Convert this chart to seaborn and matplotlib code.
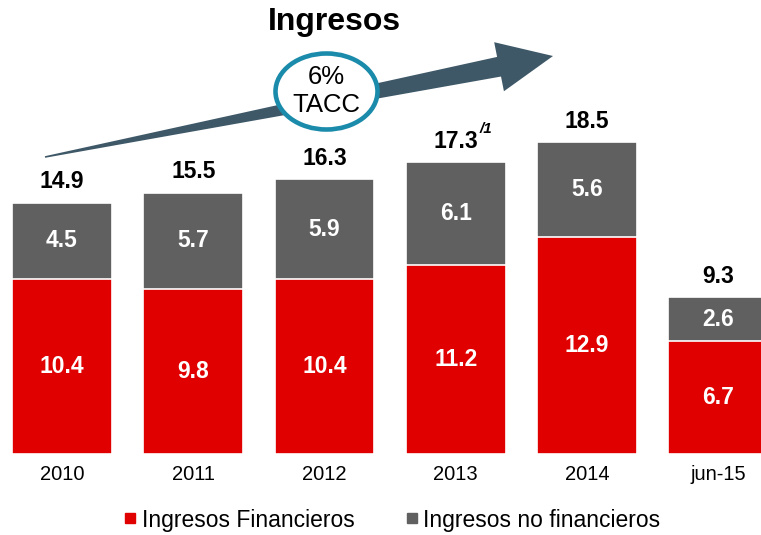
import matplotlib
matplotlib.use("Agg")
import matplotlib.pyplot as plt
import seaborn as sns
import numpy as np
import pandas as pd
from matplotlib.patches import Polygon, Ellipse
from matplotlib.lines import Line2D

# datos del grafico
periodos = ["2010", "2011", "2012", "2013", "2014", "jun-15"]
financieros = [10.4, 9.8, 10.4, 11.2, 12.9, 6.7]
no_financieros = [4.5, 5.7, 5.9, 6.1, 5.6, 2.6]
totales = [14.9, 15.5, 16.3, 17.3, 18.5, 9.3]
nota_2013 = "/1"
tacc_pct = "6%"
tacc_txt = "TACC"

ROJO = "#E00000"
GRIS = "#606060"

sns.set_theme(style="white")
plt.rcParams["font.family"] = ["Liberation Sans", "DejaVu Sans"]
plt.rcParams["text.color"] = "black"
plt.rcParams["xtick.color"] = "black"

df = pd.DataFrame({"periodo": periodos, "fin": financieros,
                   "nofin": no_financieros, "total": totales})

fig = plt.figure(figsize=(7.61, 5.35), dpi=100)
ax = fig.add_axes([0, 0.1514, 1, 0.819])

# barra completa (gris) y encima la parte financiera (roja)
sns.barplot(data=df, x="periodo", y="total", color=GRIS, width=0.76,
            saturation=1, edgecolor="white", linewidth=1.2, ax=ax)
sns.barplot(data=df, x="periodo", y="fin", color=ROJO, width=0.76,
            saturation=1, edgecolor="white", linewidth=1.2, ax=ax)

ax.set_xlim(-0.472, 5.326)
ax.set_ylim(0, 26)
ax.set_xlabel("")
ax.set_ylabel("")
ax.set_yticks([])
ax.tick_params(axis="x", length=0, pad=8, labelsize=14.5)
for s in ax.spines.values():
    s.set_visible(False)

for i, row in df.iterrows():
    ax.text(i, row["fin"] / 2, f"{row['fin']:.1f}", ha="center", va="center",
            color="white", fontsize=16.5, fontweight="bold")
    ax.text(i, row["fin"] + row["nofin"] / 2, f"{row['nofin']:.1f}",
            ha="center", va="center", color="white", fontsize=16.5, fontweight="bold")
    ax.annotate(f"{row['total']:.1f}", (i, row["total"]), xytext=(0, 7),
                textcoords="offset points", ha="center", va="bottom",
                fontsize=16.5, fontweight="bold", color="black")

# superindice en 2013
ax.annotate(nota_2013, (3, totales[3]), xytext=(17, 19),
            textcoords="offset points", ha="left", va="bottom",
            fontsize=11, fontweight="bold", fontstyle="italic")

# titulo
fig.text(0.44, 0.958, "Ingresos", ha="center", va="center",
         fontsize=23, fontweight="bold")

# flecha de crecimiento (coordenadas en pixeles / 100)
H = 5.35
tail = np.array([45.0, 157.0])
tip = np.array([553.0, 56.0])
d = tip - tail
L = np.hypot(*d)
u = d / L
n = np.array([u[1], -u[0]])
head_len, head_w, shaft_w = 55.0, 25.0, 10.0
base = tip - u * head_len
pts = [tail + n * 0.8, base + n * shaft_w, base + n * head_w, tip,
       base - n * head_w, base - n * shaft_w, tail - n * 0.8]
pts = [(p[0] / 100, H - p[1] / 100) for p in pts]
fig.patches.append(Polygon(pts, closed=True, facecolor="#3E5868",
                           edgecolor="none", transform=fig.dpi_scale_trans,
                           zorder=5))

# circulo TACC
fig.patches.append(Ellipse((3.265, H - 0.915), 1.02, 0.76, facecolor="white",
                           edgecolor="#1A8BAA", linewidth=3.3,
                           transform=fig.dpi_scale_trans, zorder=6))
fig.text(3.265 / 7.61, 1 - 0.77 / H, tacc_pct, ha="center", va="center",
         fontsize=18.5, zorder=7)
fig.text(3.265 / 7.61, 1 - 1.05 / H, tacc_txt, ha="center", va="center",
         fontsize=18.5, zorder=7)

handles = [Line2D([], [], marker="s", linestyle="", color=ROJO, markersize=7),
           Line2D([], [], marker="s", linestyle="", color=GRIS, markersize=7)]
fig.legend(handles, ["Ingresos Financieros", "Ingresos no financieros"],
           loc="center", bbox_to_anchor=(0.515, 0.028), ncol=2, frameon=False,
           fontsize=16.5, handletextpad=0.2, columnspacing=2.2, handlelength=0.6)

fig.savefig("out.png", dpi=100)
